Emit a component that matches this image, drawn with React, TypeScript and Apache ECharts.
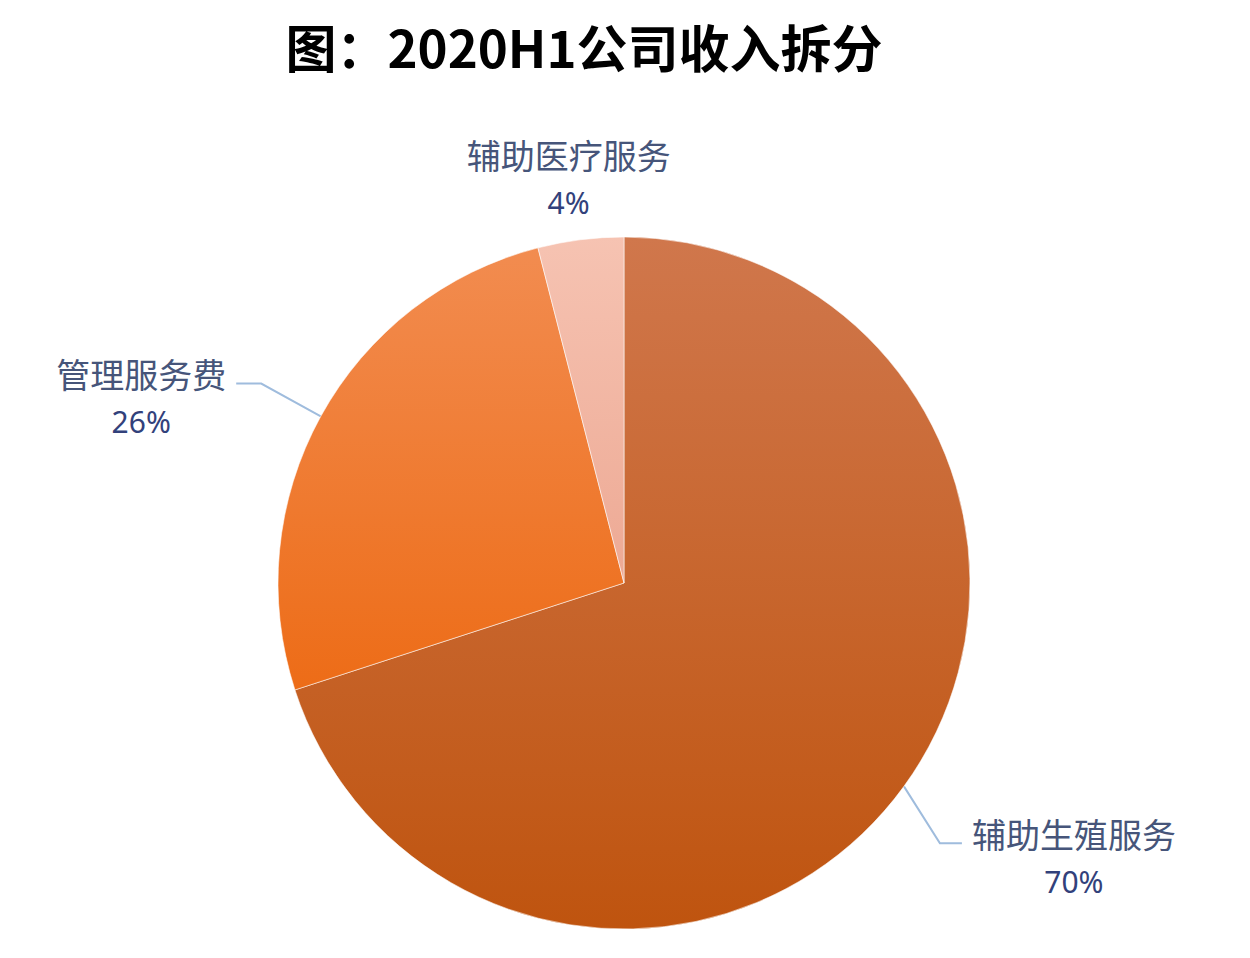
import React, { useEffect, useRef } from 'react';
import * as echarts from 'echarts';

const categories = ['辅助生殖服务', '管理服务费', '辅助医疗服务'];
const shares = [70, 26, 4];
const percentLabels = ['70%', '26%', '4%'];

// top / bottom colours of each slice
const sliceColors = [
  ['#d0774c', '#bf540f'],
  ['#f28c50', '#ed6c17'],
  ['#f6c3b2', '#eda994'],
];

const App: React.FC = () => {
  const chartRef = useRef<HTMLDivElement>(null);

  useEffect(() => {
    document.body.style.margin = '0';
    if (!chartRef.current) return;
    const chart = echarts.init(chartRef.current, null, { renderer: 'svg' });

    const option = {
      animation: false,
      backgroundColor: '#ffffff',
      title: {
        text: '图：2020H1公司收入拆分',
        left: 579,
        top: 15,
        textAlign: 'center',
        textStyle: {
          fontFamily: '"Noto Sans CJK SC", sans-serif',
          fontSize: 51,
          fontWeight: 'bold',
          color: '#000000',
        },
      },
      series: [
        {
          type: 'pie',
          center: [624, 583],
          radius: 346,
          startAngle: 90,
          clockwise: true,
          avoidLabelOverlap: false,
          itemStyle: {
            borderColor: 'rgba(255,255,255,0.55)',
            borderWidth: 1,
          },
          label: {
            show: true,
            position: 'outside',
            distanceToLabelLine: 10,
            padding: [28, 0, 0, 0],
            formatter: (p: any) => `{n|${p.name}}\n{p|${percentLabels[p.dataIndex]}}`,
            rich: {
              n: {
                fontFamily: '"Noto Sans CJK SC", sans-serif',
                fontSize: 34,
                color: '#46557a',
                lineHeight: 48,
                align: 'center',
              },
              p: {
                fontFamily: '"Noto Sans", "Noto Sans CJK SC", sans-serif',
                fontSize: 30,
                color: '#32417b',
                lineHeight: 48,
                align: 'center',
              },
            },
          },
          labelLine: {
            show: true,
            length: 68,
            length2: 25,
            lineStyle: { color: '#9fbcdd', width: 2 },
          },
          labelLayout: (params: any) => {
            const pts = params.labelLinePoints;
            if (!pts) return {};
            const p0 = pts[0];
            if (params.dataIndex === 0) {
              const p1 = [p0[0] + 36, p0[1] + 57];
              const p2 = [p1[0] + 22, p1[1]];
              return {
                x: p2[0] + 10,
                y: p2[1],
                align: 'left',
                verticalAlign: 'middle',
                labelLinePoints: [p0, p1, p2],
              };
            }
            if (params.dataIndex === 2) {
              return {
                x: p0[0] - 12,
                y: p0[1] - 61,
                align: 'center',
                verticalAlign: 'middle',
              };
            }
            return {};
          },
          data: categories.map((name, i) => ({
            name,
            value: shares[i],
            itemStyle: {
              color: new echarts.graphic.LinearGradient(0, 0, 0, 1, [
                { offset: 0, color: sliceColors[i][0] },
                { offset: 1, color: sliceColors[i][1] },
              ]),
            },
            ...(i === 2
              ? { labelLine: { show: false }, label: { padding: 0 } }
              : {}),
          })),
        },
      ],
    };

    chart.setOption(option);
    return () => {
      chart.dispose();
    };
  }, []);

  return <div ref={chartRef} style={{ width: 1250, height: 958 }} />;
};

export default App;
